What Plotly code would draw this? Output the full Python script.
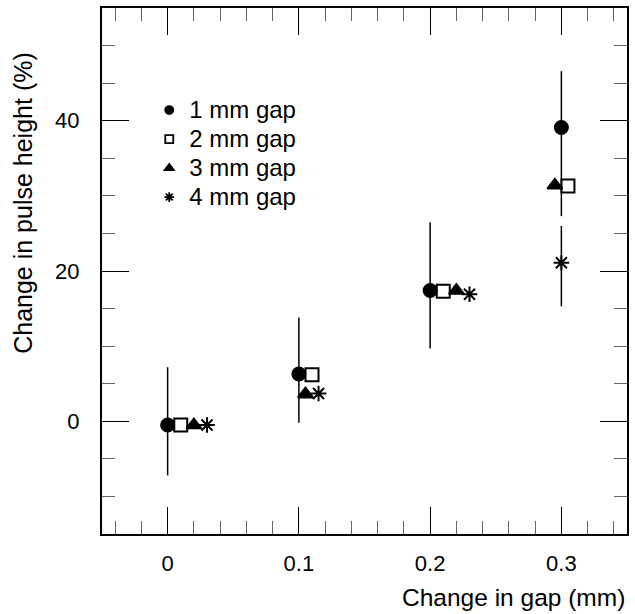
import plotly.graph_objects as go

# ---- data ----
gap_labels = ["1 mm gap", "2 mm gap", "3 mm gap", "4 mm gap"]

x_gap1 = [0.0, 0.1, 0.2, 0.3]
y_gap1 = [-0.5, 6.3, 17.4, 39.1]
err_plus_gap1 = [7.7, 7.5, 9.1, 7.5]
err_minus_gap1 = [6.7, 6.5, 7.7, 11.8]

x_gap2 = [0.01, 0.11, 0.21, 0.305]
y_gap2 = [-0.5, 6.2, 17.3, 31.3]

x_gap3 = [0.02, 0.105, 0.22, 0.295]
y_gap3 = [-0.5, 3.6, 17.4, 31.4]

x_gap4 = [0.03, 0.115, 0.23, 0.30]
y_gap4 = [-0.5, 3.7, 16.9, 21.1]
err_plus_gap4 = [0, 0, 0, 4.9]
err_minus_gap4 = [0, 0, 0, 5.8]

x_tickvals = [0, 0.1, 0.2, 0.3]
x_ticktext = ["0", "0.1", "0.2", "0.3"]
y_tickvals = [0, 20, 40]
y_ticktext = ["0", "20", "40"]

FONT = "Liberation Sans, Arial, Helvetica, sans-serif"

fig = go.Figure()

series = [
    (x_gap1, y_gap1, "circle", 13, err_plus_gap1, err_minus_gap1),
    (x_gap2, y_gap2, "square-open", 13, None, None),
    (x_gap3, y_gap3, "triangle-up", 13, None, None),
    (x_gap4, y_gap4, "asterisk-open", 13, err_plus_gap4, err_minus_gap4),
]

for (xs, ys, sym, size, ep, em), name in zip(series, gap_labels):
    kw = {}
    if ep is not None:
        kw["error_y"] = dict(type="data", array=ep, arrayminus=em, symmetric=False,
                             color="black", thickness=1.5, width=0)
    fig.add_trace(go.Scatter(
        x=xs, y=ys, mode="markers", name=name, showlegend=False,
        marker=dict(symbol=sym, size=size, color="black",
                    line=dict(color="black", width=2)),
        **kw))

# legend-only traces with smaller symbols
for (xs, ys, sym, size, ep, em), name in zip(series, gap_labels):
    fig.add_trace(go.Scatter(
        x=[None], y=[None], mode="markers",
        name='<span style="font-size:24px">' + name + "</span>",
        showlegend=True,
        marker=dict(symbol=sym, size=8, color="black",
                    line=dict(color="black", width=1.8))))

axis_common = dict(
    showline=True, linewidth=2, linecolor="black", mirror="allticks",
    ticks="inside", ticklen=27, tickwidth=1, tickcolor="black",
    showgrid=False, zeroline=False,
    tickfont=dict(family=FONT, size=22, color="black"),
)
minor_common = dict(ticks="inside", ticklen=13, tickwidth=1,
                    tickcolor="#666666", showgrid=False)

fig.update_xaxes(range=[-0.05, 0.35], tickvals=x_tickvals, ticktext=x_ticktext,
                 minor=dict(dtick=0.02, tick0=0, **minor_common),
                 ticklabelstandoff=9, **axis_common)
fig.update_yaxes(range=[-15, 55], tickvals=y_tickvals, ticktext=y_ticktext,
                 minor=dict(dtick=5, tick0=0, **minor_common),
                 ticklabelstandoff=16, **axis_common)

fig.update_layout(
    width=635, height=614,
    margin=dict(l=102, r=6, t=7, b=80),
    paper_bgcolor="white", plot_bgcolor="white",
    font=dict(family=FONT, color="black"),
    showlegend=True,
    legend=dict(x=0.09, y=0.843, xanchor="left", yanchor="top",
                bgcolor="rgba(0,0,0,0)", font=dict(family=FONT, size=20),
                itemsizing="trace", tracegroupgap=0),
    annotations=[
        dict(text="Change in gap (mm)", xref="paper", yref="paper",
             x=1.0, y=-0.12, xanchor="right", yanchor="middle",
             showarrow=False, font=dict(family=FONT, size=24.5, color="black")),
        dict(text="Change in pulse height (%)", xref="paper", yref="paper",
             x=-0.152, y=0.63, xanchor="center", yanchor="middle", textangle=-90,
             showarrow=False, font=dict(family=FONT, size=25, color="black")),
    ],
)

fig.write_html("out.html", config={"displayModeBar": False},
               post_script="document.body.style.margin='0';")
